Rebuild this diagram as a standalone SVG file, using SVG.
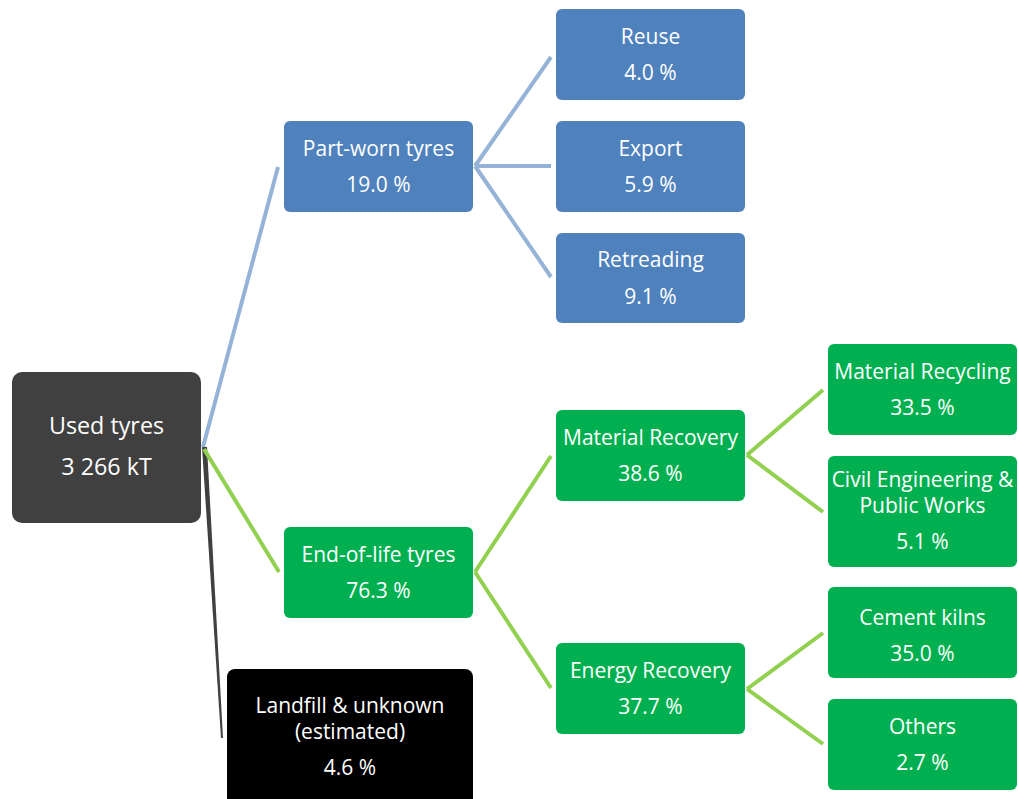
<svg xmlns="http://www.w3.org/2000/svg" width="1018" height="799" viewBox="0 0 1018 799">
  <style>
    .lbl { font-family: "Open Sans", "Liberation Sans", sans-serif; font-size: 21px; fill: #ffffff; text-anchor: middle; }
    .big { font-size: 23.3px; }
    .blue { fill: #4F81BD; }
    .green { fill: #00B050; }
    .root { fill: #404040; }
    .black { fill: #000000; }
    .cb { stroke: #95B3D7; stroke-width: 4; fill: none; }
    .cg { stroke: #92D050; stroke-width: 4; fill: none; }
  </style>
  <rect width="1018" height="799" fill="#ffffff"/>

  <!-- connectors -->
  <g id="connectors">
    <line class="cb" x1="203" y1="447" x2="278" y2="167"/>
    <path d="M202,447 L207,447 L223,738 L221,738 Z" fill="#404040"/>
    <line class="cg" x1="204" y1="449" x2="279" y2="572"/>
    <line class="cb" x1="475" y1="166" x2="551" y2="57"/>
    <line class="cb" x1="475" y1="166" x2="551" y2="166"/>
    <line class="cb" x1="475" y1="166" x2="551" y2="277"/>
    <line class="cg" x1="475" y1="572" x2="551" y2="456"/>
    <line class="cg" x1="475" y1="572" x2="551" y2="688"/>
    <line class="cg" x1="747" y1="455" x2="823" y2="390"/>
    <line class="cg" x1="747" y1="455" x2="823" y2="512"/>
    <line class="cg" x1="747" y1="689" x2="823" y2="633"/>
    <line class="cg" x1="747" y1="689" x2="823" y2="744"/>
  </g>

  <g id="used-tyres">
    <rect class="root" x="12" y="372" width="189" height="151" rx="10"/>
    <text class="lbl big" x="106.5" y="434">Used tyres</text>
    <text class="lbl big" x="106.5" y="475">3 266 kT</text>
  </g>

  <g id="part-worn">
    <rect class="blue" x="284" y="121" width="189" height="91" rx="6"/>
    <text class="lbl" x="378.5" y="155.5">Part-worn tyres</text>
    <text class="lbl" x="378.5" y="192">19.0 %</text>
  </g>

  <g id="reuse">
    <rect class="blue" x="556" y="9" width="189" height="91" rx="6"/>
    <text class="lbl" x="650.5" y="43.5">Reuse</text>
    <text class="lbl" x="650.5" y="80">4.0 %</text>
  </g>

  <g id="export">
    <rect class="blue" x="556" y="121" width="189" height="91" rx="6"/>
    <text class="lbl" x="650.5" y="155.5">Export</text>
    <text class="lbl" x="650.5" y="192">5.9 %</text>
  </g>

  <g id="retreading">
    <rect class="blue" x="556" y="233" width="189" height="90" rx="6"/>
    <text class="lbl" x="650.5" y="267">Retreading</text>
    <text class="lbl" x="650.5" y="304">9.1 %</text>
  </g>

  <g id="end-of-life">
    <rect class="green" x="284" y="527" width="189" height="91" rx="6"/>
    <text class="lbl" x="378.5" y="561.5">End-of-life tyres</text>
    <text class="lbl" x="378.5" y="598">76.3 %</text>
  </g>

  <g id="material-recovery">
    <rect class="green" x="556" y="410" width="189" height="91" rx="6"/>
    <text class="lbl" x="650.5" y="444.5">Material Recovery</text>
    <text class="lbl" x="650.5" y="481">38.6 %</text>
  </g>

  <g id="energy-recovery">
    <rect class="green" x="556" y="643" width="189" height="91" rx="6"/>
    <text class="lbl" x="650.5" y="677.5">Energy Recovery</text>
    <text class="lbl" x="650.5" y="714">37.7 %</text>
  </g>

  <g id="material-recycling">
    <rect class="green" x="828" y="344" width="189" height="91" rx="6"/>
    <text class="lbl" x="922.5" y="378.5">Material Recycling</text>
    <text class="lbl" x="922.5" y="415">33.5 %</text>
  </g>

  <g id="civil-engineering">
    <rect class="green" x="828" y="456" width="189" height="111" rx="6"/>
    <text class="lbl" x="922.5" y="487">Civil Engineering &amp;</text>
    <text class="lbl" x="922.5" y="513">Public Works</text>
    <text class="lbl" x="922.5" y="548.5">5.1 %</text>
  </g>

  <g id="cement-kilns">
    <rect class="green" x="828" y="587" width="189" height="91" rx="6"/>
    <text class="lbl" x="922.5" y="625">Cement kilns</text>
    <text class="lbl" x="922.5" y="661">35.0 %</text>
  </g>

  <g id="others">
    <rect class="green" x="828" y="699" width="189" height="91" rx="6"/>
    <text class="lbl" x="922.5" y="733.5">Others</text>
    <text class="lbl" x="922.5" y="770">2.7 %</text>
  </g>

  <g id="landfill">
    <rect class="black" x="227" y="669" width="246" height="140" rx="8"/>
    <text class="lbl" x="350" y="713">Landfill &amp; unknown</text>
    <text class="lbl" x="350" y="739">(estimated)</text>
    <text class="lbl" x="350" y="775">4.6 %</text>
  </g>
</svg>
